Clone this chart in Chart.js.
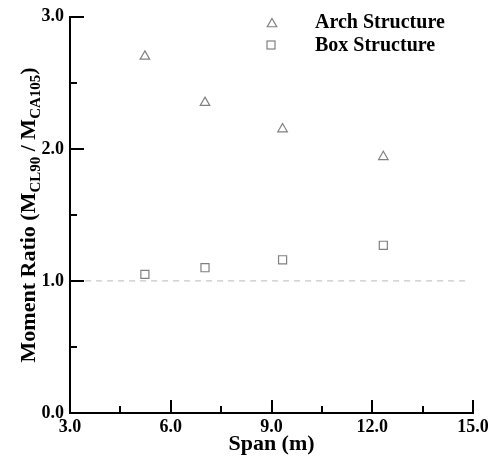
<!DOCTYPE html>
<html>
<head>
<meta charset="utf-8">
<script src="https://cdn.jsdelivr.net/npm/chart.js@4.4.1/dist/chart.umd.min.js"></script>
<style>
    html, body { margin: 0; padding: 0; background: #fff; }
</style>
</head>
<body>
<canvas id="momentChart" width="499" height="462"></canvas>
<script>
// data
const spans = [5.23, 7.02, 9.33, 12.33];
const archRatio = [2.70, 2.35, 2.15, 1.94];
const boxRatio = [1.05, 1.10, 1.16, 1.27];
const refSpan = [3.45, 14.85];
const refRatio = [1.0, 1.0];
const seriesNames = ['Arch Structure', 'Box Structure'];
const xMajorStep = 3;
const yMajorStep = 1;

const FONT = "'Liberation Serif', 'Times New Roman', serif";
const MARK = '#808080';

function toPoints(xs, ys) {
    return xs.map((x, i) => ({ x: x, y: ys[i] }));
}

function isMajor(v, step) {
    return Math.abs(v / step - Math.round(v / step)) < 1e-6;
}

// inward tick marks, y title with subscripts, legend inside the plot
const decorPlugin = {
    id: 'decor',
    afterDraw(chart) {
        const ctx = chart.ctx;
        const xs = chart.scales.x;
        const ys = chart.scales.y;
        const area = chart.chartArea;

        ctx.save();
        ctx.strokeStyle = '#000';
        ctx.lineWidth = 2;
        xs.ticks.forEach(t => {
            if (t.value === xs.min) return;
            const px = Math.round(xs.getPixelForValue(t.value));
            const len = isMajor(t.value, xMajorStep) ? 13 : 7;
            ctx.beginPath();
            ctx.moveTo(px, area.bottom);
            ctx.lineTo(px, area.bottom - len);
            ctx.stroke();
        });
        ys.ticks.forEach(t => {
            if (t.value === ys.min) return;
            const py = Math.round(ys.getPixelForValue(t.value));
            const len = isMajor(t.value, yMajorStep) ? 14 : 7;
            ctx.beginPath();
            ctx.moveTo(area.left, py);
            ctx.lineTo(area.left + len, py);
            ctx.stroke();
        });
        ctx.restore();

        // y axis title: Moment Ratio (M_CL90 / M_CA105)
        const parts = [
            { t: 'Moment Ratio (M', sub: false },
            { t: 'CL90', sub: true },
            { t: ' / M', sub: false },
            { t: 'CA105', sub: true },
            { t: ')', sub: false }
        ];
        const big = 'bold 22px ' + FONT;
        const small = 'bold 15px ' + FONT;
        ctx.save();
        ctx.fillStyle = '#000';
        ctx.textBaseline = 'alphabetic';
        let total = 0;
        parts.forEach(p => {
            ctx.font = p.sub ? small : big;
            p.w = ctx.measureText(p.t).width;
            total += p.w;
        });
        ctx.translate(35, (area.top + area.bottom) / 2);
        ctx.rotate(-Math.PI / 2);
        let cx = -total / 2;
        parts.forEach(p => {
            ctx.font = p.sub ? small : big;
            ctx.fillText(p.t, cx, p.sub ? 5 : 0);
            cx += p.w;
        });
        ctx.restore();

        // legend
        ctx.save();
        ctx.strokeStyle = MARK;
        ctx.fillStyle = '#fff';
        ctx.lineWidth = 1.2;
        const r = 5.5;
        let lx = 272, ly = 24;
        ctx.beginPath();
        ctx.moveTo(lx, ly - r);
        ctx.lineTo(lx + 0.866 * r, ly + r / 2);
        ctx.lineTo(lx - 0.866 * r, ly + r / 2);
        ctx.closePath();
        ctx.fill();
        ctx.stroke();
        ctx.strokeRect(267, 41, 8, 8);
        ctx.fillStyle = '#000';
        ctx.font = 'bold 20px ' + FONT;
        ctx.textBaseline = 'alphabetic';
        ctx.fillText(seriesNames[0], 315, 28);
        ctx.fillText(seriesNames[1], 315, 51);
        ctx.restore();
    }
};

const ctx = document.getElementById('momentChart').getContext('2d');
new Chart(ctx, {
    type: 'scatter',
    data: {
        datasets: [
            {
                label: seriesNames[0],
                data: toPoints(spans, archRatio),
                pointStyle: 'triangle',
                pointRadius: 5.5,
                pointBorderColor: MARK,
                pointBackgroundColor: '#fff',
                pointBorderWidth: 1.2
            },
            {
                label: seriesNames[1],
                data: toPoints(spans, boxRatio),
                pointStyle: 'rect',
                pointRadius: 5.7,
                pointBorderColor: MARK,
                pointBackgroundColor: '#fff',
                pointBorderWidth: 1.2
            },
            {
                label: 'ref',
                type: 'line',
                data: toPoints(refSpan, refRatio),
                borderColor: '#c8c8c8',
                borderWidth: 1.2,
                borderDash: [6, 5],
                pointRadius: 0,
                fill: false
            }
        ]
    },
    options: {
        responsive: false,
        animation: false,
        devicePixelRatio: 1,
        layout: { padding: { top: 14, right: 26, left: 0, bottom: 0 } },
        plugins: {
            legend: { display: false },
            tooltip: { enabled: false }
        },
        scales: {
            x: {
                type: 'linear',
                min: 3,
                max: 15,
                afterFit: s => { s.height = 49; },
                grid: { display: false, drawTicks: false },
                border: { display: true, color: '#000', width: 2 },
                ticks: {
                    stepSize: 1.5,
                    autoSkip: false,
                    maxRotation: 0,
                    padding: 4,
                    color: '#000',
                    font: { family: FONT, size: 18, weight: 'bold' },
                    callback: v => isMajor(v, xMajorStep) ? v.toFixed(1) : ''
                },
                title: {
                    display: true,
                    text: 'Span (m)',
                    color: '#000',
                    font: { family: FONT, size: 22, weight: 'bold' },
                    padding: { top: 0, bottom: 4 }
                }
            },
            y: {
                type: 'linear',
                min: 0,
                max: 3,
                afterFit: s => { s.width = 70; },
                grid: { display: false, drawTicks: false },
                border: { display: true, color: '#000', width: 2 },
                ticks: {
                    stepSize: 0.5,
                    autoSkip: false,
                    padding: 6,
                    color: '#000',
                    font: { family: FONT, size: 18, weight: 'bold' },
                    callback: v => isMajor(v, yMajorStep) ? v.toFixed(1) : ''
                }
            }
        }
    },
    plugins: [decorPlugin]
});
</script>
</body>
</html>
